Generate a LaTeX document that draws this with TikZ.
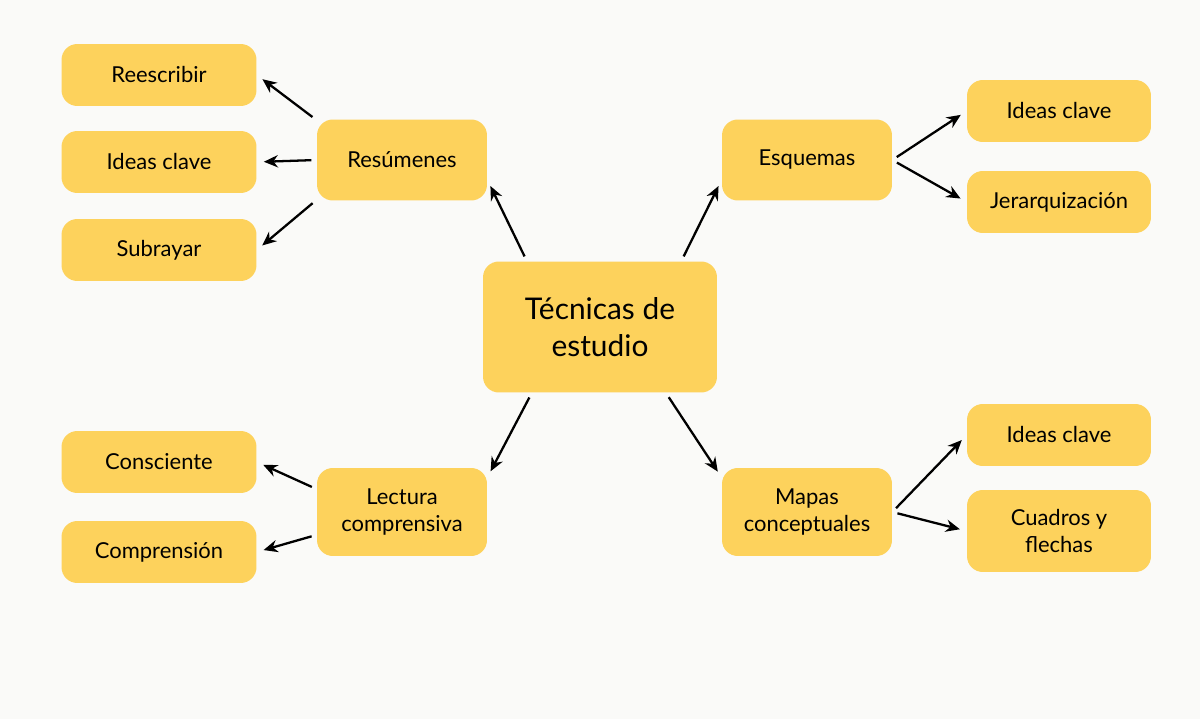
\documentclass[tikz,border=0pt]{standalone}
\usepackage{fontspec}
\setmainfont{Lato}
\usetikzlibrary{arrows.meta}
\definecolor{boxfill}{HTML}{FDD25C}
\definecolor{bgcol}{HTML}{FAFAF8}
\begin{document}
\begin{tikzpicture}[x=0.02cm, y=-0.02cm,
  box/.style={fill=boxfill, rounded corners=9pt, align=center, font=\fontsize{12.5}{15}\selectfont, inner sep=0pt},
  leaf/.style={box, minimum width=3.9cm, minimum height=1.24cm},
  mid/.style={box, minimum width=3.4cm, minimum height=1.62cm},
  arr/.style={-{Stealth[length=8pt,width=7pt]}, line width=1.3pt, shorten <=3pt, shorten >=4pt}]
  \fill[bgcol] (0,0) rectangle (1200,719);
  \useasboundingbox (0,0) rectangle (1200,719);

  % Center
  \node[box, minimum width=4.68cm, minimum height=2.62cm, font=\fontsize{17}{21}\selectfont] (tec) at (600,327) {Técnicas de\\estudio};

  % Branches
  \node[mid] (res) at (402,160) {Resúmenes};
  \node[mid] (esq) at (807,160) {Esquemas};
  \node[mid, minimum height=1.76cm] (lec) at (402,512) {Lectura\\comprensiva};
  \node[mid, minimum height=1.76cm] (map) at (807,512) {Mapas\\conceptuales};

  % Leaves
  \node[leaf] (ree) at (159,75) {Reescribir};
  \node[leaf] (ide) at (159,162) {Ideas clave};
  \node[leaf] (sub) at (159,250) {Subrayar};
  \node[leaf, minimum width=3.68cm] (ide2) at (1059,111) {Ideas clave};
  \node[leaf, minimum width=3.68cm] (jer) at (1059,202) {Jerarquización};
  \node[leaf] (con) at (159,462) {Consciente};
  \node[leaf] (com) at (159,552) {Comprensión};
  \node[leaf, minimum width=3.68cm] (ide3) at (1059,435) {Ideas clave};
  \node[leaf, minimum width=3.68cm, minimum height=1.64cm] (cua) at (1059,531) {Cuadros y\\flechas};

  % Connectors
  \draw[arr] (tec.138) -- (res.-13);
  \draw[arr] (tec.39) -- (esq.193);
  \draw[arr] (tec.224) -- (lec.22);
  \draw[arr] (tec.315) -- (map.158);
  \draw[arr] (res.155) -- (ree.east);
  \draw[arr] (res.west) -- (ide.east);
  \draw[arr] (res.205) -- (sub.east);
  \draw[arr] (esq.east) -- (ide2.west);
  \draw[arr] (esq.east) -- (jer.west);
  \draw[arr] (lec.165) -- (con.east);
  \draw[arr] (lec.195) -- (com.east);
  \draw[arr] (map.east) -- (ide3.west);
  \draw[arr] (map.east) -- (cua.west);
\end{tikzpicture}
\end{document}
